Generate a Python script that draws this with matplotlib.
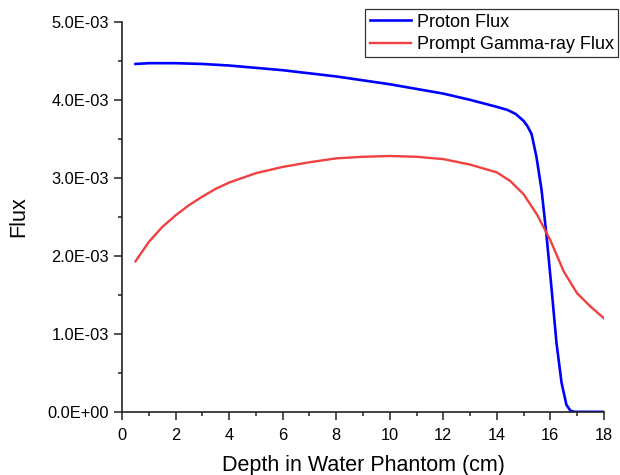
import matplotlib
matplotlib.use("Agg")
import matplotlib.pyplot as plt
from matplotlib.ticker import FuncFormatter, MultipleLocator

plt.rcParams['font.family'] = ['Liberation Sans', 'DejaVu Sans']

# proton flux vs depth (cm)
proton_x = [0.5, 1.0, 1.5, 2.0, 3.0, 4.0, 5.0, 6.0, 7.0, 8.0, 9.0, 10.0, 11.0, 12.0,
            13.0, 14.0, 14.4, 14.7, 15.0, 15.15, 15.3, 15.48, 15.67, 15.86, 16.05,
            16.23, 16.42, 16.6, 16.75, 16.9, 17.5, 18.0]
proton_y = [4.46e-3, 4.47e-3, 4.47e-3, 4.47e-3, 4.46e-3, 4.44e-3, 4.41e-3, 4.38e-3,
            4.34e-3, 4.30e-3, 4.25e-3, 4.20e-3, 4.14e-3, 4.08e-3, 4.00e-3, 3.91e-3,
            3.87e-3, 3.82e-3, 3.73e-3, 3.66e-3, 3.56e-3, 3.27e-3, 2.85e-3, 2.25e-3,
            1.56e-3, 0.88e-3, 0.37e-3, 0.09e-3, 0.015e-3, 0.0, 0.0, 0.0]

# prompt gamma-ray flux vs depth (cm)
gamma_x = [0.5, 1.0, 1.5, 2.0, 2.5, 3.0, 3.5, 4.0, 5.0, 6.0, 7.0, 8.0, 9.0, 10.0,
           11.0, 12.0, 13.0, 14.0, 14.5, 15.0, 15.5, 16.0, 16.5, 17.0, 17.5, 18.0]
gamma_y = [1.93e-3, 2.18e-3, 2.37e-3, 2.52e-3, 2.65e-3, 2.76e-3, 2.86e-3, 2.94e-3,
           3.06e-3, 3.14e-3, 3.20e-3, 3.25e-3, 3.27e-3, 3.28e-3, 3.27e-3, 3.24e-3,
           3.17e-3, 3.07e-3, 2.96e-3, 2.79e-3, 2.53e-3, 2.20e-3, 1.80e-3, 1.52e-3,
           1.35e-3, 1.20e-3]

fig = plt.figure(figsize=(6.2, 4.75), dpi=100)
ax = fig.add_axes([0.197, 0.133, 0.777, 0.821])

ax.plot(proton_x, proton_y, color='#0000FF', lw=1.9, label='Proton Flux')
ax.plot(gamma_x, gamma_y, color='#F04040', lw=1.7, label='Prompt Gamma-ray Flux')

ax.set_xlim(0, 18)
ax.set_ylim(0, 5e-3)
ax.xaxis.set_major_locator(MultipleLocator(2))
ax.xaxis.set_minor_locator(MultipleLocator(1))
ax.yaxis.set_major_locator(MultipleLocator(1e-3))
ax.yaxis.set_minor_locator(MultipleLocator(0.5e-3))
ax.yaxis.set_major_formatter(FuncFormatter(lambda v, p: '%.1E' % v))

for s in ['top', 'right']:
    ax.spines[s].set_visible(False)
for s in ['left', 'bottom']:
    ax.spines[s].set_linewidth(1.2)
    ax.spines[s].set_color('#222222')

ax.tick_params(which='major', direction='out', length=5.5, width=1.1,
               labelsize=11.8, color='#222222')
ax.tick_params(axis='x', which='major', pad=6)
ax.tick_params(axis='y', which='major', pad=4)
ax.tick_params(which='minor', direction='out', length=3.2, width=1.1, color='#222222')

ax.set_xlabel('Depth in Water Phantom (cm)', fontsize=15.5, labelpad=9)
ax.set_ylabel('Flux', fontsize=15.5, labelpad=13)

leg = ax.legend(loc='upper right', bbox_to_anchor=(0.997, 0.981),
                bbox_transform=fig.transFigure, fontsize=13, frameon=True,
                fancybox=False, borderpad=0.25, labelspacing=0.3,
                handlelength=2.3, handletextpad=0.3, borderaxespad=0)
leg.get_frame().set_edgecolor('black')
leg.get_frame().set_linewidth(0.9)

fig.savefig('out.png', dpi=100)
